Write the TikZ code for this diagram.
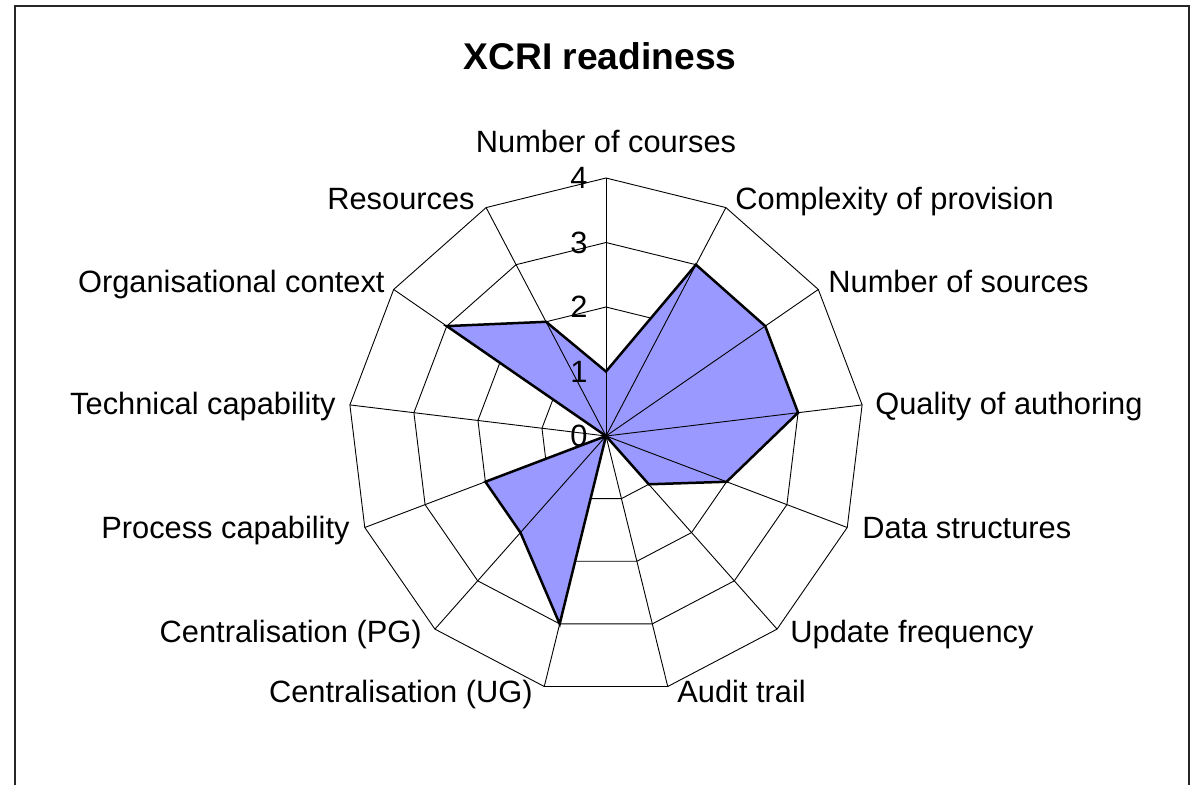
\documentclass[tikz,border=0pt]{standalone}
\usepackage{fontspec}
\setmainfont{Liberation Sans}
\definecolor{serfill}{RGB}{153,153,255}
\begin{document}
\begin{tikzpicture}[x=0.5pt,y=-0.5pt,
  lbl/.style={font=\fontsize{15.4pt}{18pt}\selectfont, inner sep=0pt},
  gridline/.style={draw=black, line width=0.45pt},
  series/.style={fill=serfill, draw=black, line width=1.25pt, line join=miter},
  frameline/.style={draw=black!85, line width=1.2pt}]
\useasboundingbox (0,0) rectangle (1194,784);
\fill[white] (0,0) rectangle (1194,784);
\draw[frameline] (15,800) -- (15,6) -- (1189,6) -- (1189,800);
\def\cx{606}
\def\cy{436}
\def\u{64.5}
\coordinate (c) at (\cx,\cy);
% axis ends
\foreach \i in {0,...,12}
  \coordinate (a\i) at ({\cx+4*\u*sin(\i*360/13)},{\cy-4*\u*cos(\i*360/13)});
% data points
\foreach \v [count=\i from 0] in {1,3,3,3,2,1,0,3,2,2,0,3,2}
  \coordinate (d\i) at ({\cx+\v*\u*sin(\i*360/13)},{\cy-\v*\u*cos(\i*360/13)});
% rings
\foreach \r in {1,2,3,4}
  \draw[gridline] plot[samples at={0,...,12}] ({\cx+\r*\u*sin(\x*360/13)},{\cy-\r*\u*cos(\x*360/13)}) -- cycle;
% series
\path[series] (d0) -- (d1) -- (d2) -- (d3) -- (d4) -- (d5) -- (d6) -- (d7) -- (d8) -- (d9) -- (d10) -- (d11) -- (d12) -- cycle;
% spokes
\foreach \i in {0,...,12}
  \draw[gridline] (c) -- (a\i);
% tick labels
\foreach \v in {0,1,2,3,4}
  \node[lbl, anchor=base east] (t\v) at (588,{\cy-\v*\u+10.5}) {\v};
% title
\node[font=\bfseries\fontsize{18.6pt}{22pt}\selectfont, inner sep=0pt, anchor=base] (title) at (600,69) {XCRI readiness};
% category labels
\node[lbl, anchor=base] (l0) at (606,152) {Number of courses};
\node[lbl, anchor=base west] (l1) at (735,209) {Complexity of provision};
\node[lbl, anchor=base west] (l2) at (828,292) {Number of sources};
\node[lbl, anchor=base west] (l3) at (875,414) {Quality of authoring};
\node[lbl, anchor=base west] (l4) at (862,538) {Data structures};
\node[lbl, anchor=base west] (l5) at (790,642) {Update frequency};
\node[lbl, anchor=base west] (l6) at (677,702) {Audit trail};
\node[lbl, anchor=base east] (l7) at (533,702) {Centralisation (UG)};
\node[lbl, anchor=base east] (l8) at (422,642) {Centralisation (PG)};
\node[lbl, anchor=base east] (l9) at (350,538) {Process capability};
\node[lbl, anchor=base east] (l10) at (336,414) {Technical capability};
\node[lbl, anchor=base east] (l11) at (385,292) {Organisational context};
\node[lbl, anchor=base east] (l12) at (475,209) {Resources};
\end{tikzpicture}
\end{document}
